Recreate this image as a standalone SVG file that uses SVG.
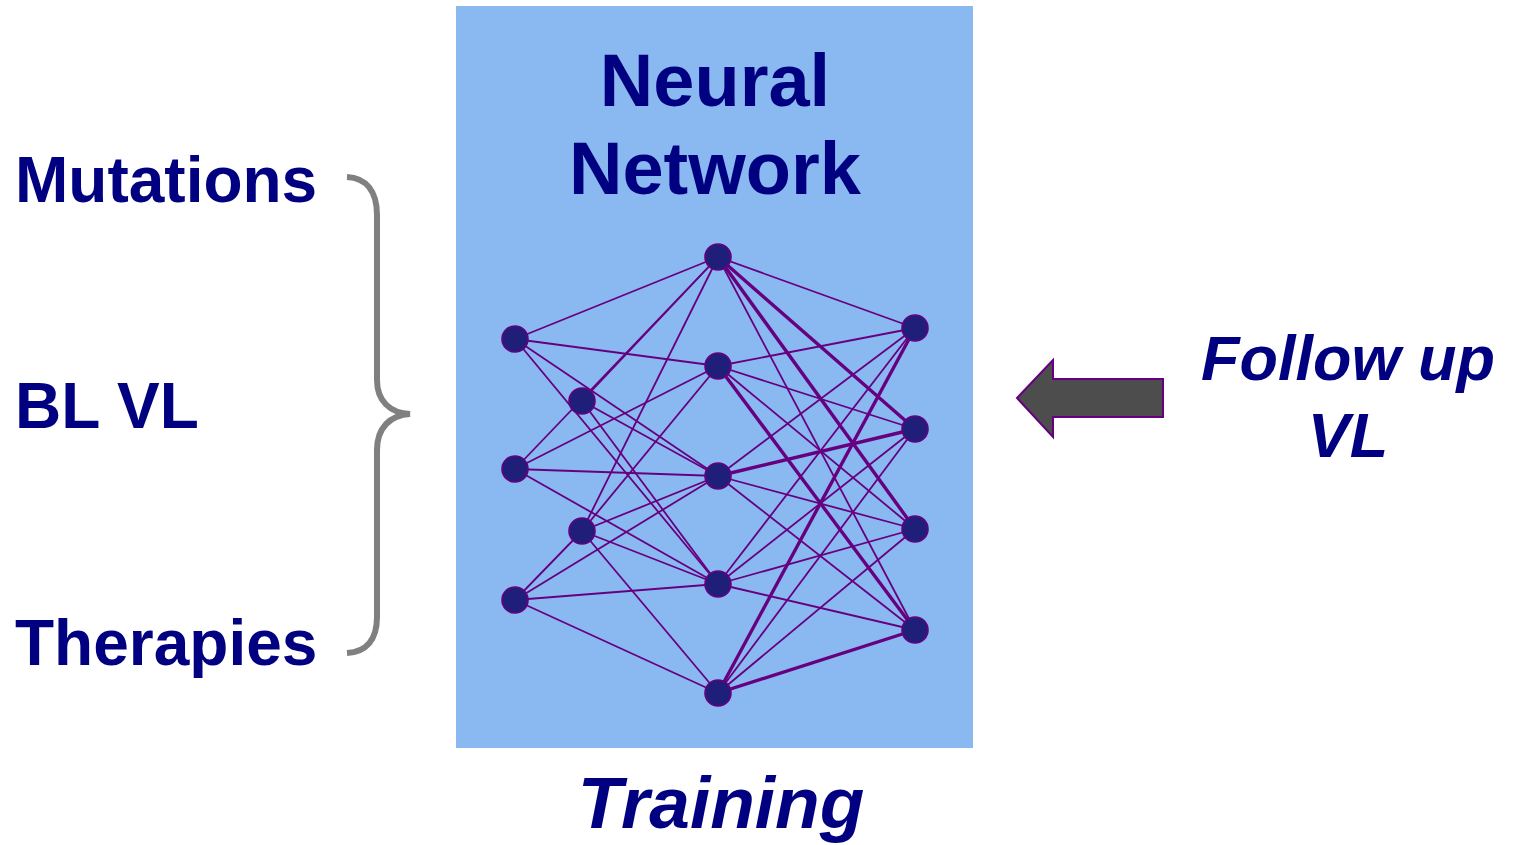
<svg xmlns="http://www.w3.org/2000/svg" width="1517" height="845" viewBox="0 0 1517 845">
<style>
.lbl{font-family:"Liberation Sans",Arial,sans-serif;font-weight:bold;fill:#000080}
.it{font-style:italic}
.e{stroke:#660080;stroke-width:1.8;fill:none}
.t{stroke:#660080;stroke-width:3.4;fill:none}
.n{fill:#1f1f7a;stroke:#660080;stroke-width:1.6}
</style>
<rect width="1517" height="845" fill="#ffffff"/>
<rect id="panel" x="456" y="6" width="517" height="742" fill="#8ab8f0"/>
<g id="title"><text class="lbl" x="715" y="106" font-size="74" text-anchor="middle">Neural</text><text class="lbl" x="715" y="194" font-size="74" text-anchor="middle">Network</text></g>
<g id="connectors">
<line class="e" x1="515" y1="339" x2="718" y2="257"/>
<line class="e" x1="515" y1="339" x2="718" y2="366"/>
<line class="e" x1="515" y1="339" x2="718" y2="476"/>
<line class="e" x1="515" y1="339" x2="718" y2="584"/>
<line class="e" x1="515" y1="469" x2="718" y2="257"/>
<line class="e" x1="582" y1="401" x2="718" y2="257"/>
<line class="e" x1="515" y1="469" x2="718" y2="366"/>
<line class="e" x1="515" y1="469" x2="718" y2="476"/>
<line class="e" x1="515" y1="469" x2="718" y2="584"/>
<line class="e" x1="515" y1="600" x2="582" y2="531"/>
<line class="e" x1="515" y1="600" x2="718" y2="476"/>
<line class="e" x1="515" y1="600" x2="718" y2="584"/>
<line class="e" x1="515" y1="600" x2="718" y2="693"/>
<line class="e" x1="582" y1="401" x2="718" y2="476"/>
<line class="e" x1="582" y1="401" x2="718" y2="584"/>
<line class="e" x1="582" y1="531" x2="718" y2="257"/>
<line class="e" x1="582" y1="531" x2="718" y2="366"/>
<line class="e" x1="582" y1="531" x2="718" y2="476"/>
<line class="e" x1="582" y1="531" x2="718" y2="584"/>
<line class="e" x1="582" y1="531" x2="718" y2="693"/>
<line class="e" x1="718" y1="257" x2="915" y2="328"/>
<line class="t" x1="718" y1="257" x2="915" y2="429"/>
<line class="t" x1="718" y1="257" x2="915" y2="529"/>
<line class="e" x1="718" y1="257" x2="915" y2="630"/>
<line class="e" x1="718" y1="366" x2="915" y2="328"/>
<line class="e" x1="718" y1="366" x2="915" y2="429"/>
<line class="e" x1="718" y1="366" x2="915" y2="529"/>
<line class="t" x1="718" y1="366" x2="915" y2="630"/>
<line class="e" x1="718" y1="476" x2="915" y2="328"/>
<line class="t" x1="718" y1="476" x2="915" y2="429"/>
<line class="e" x1="718" y1="476" x2="915" y2="529"/>
<line class="e" x1="718" y1="476" x2="915" y2="630"/>
<line class="e" x1="718" y1="584" x2="915" y2="328"/>
<line class="e" x1="718" y1="584" x2="915" y2="429"/>
<line class="e" x1="718" y1="584" x2="915" y2="529"/>
<line class="e" x1="718" y1="584" x2="915" y2="630"/>
<line class="t" x1="718" y1="693" x2="915" y2="328"/>
<line class="e" x1="718" y1="693" x2="915" y2="429"/>
<line class="e" x1="718" y1="693" x2="915" y2="529"/>
<line class="t" x1="718" y1="693" x2="915" y2="630"/>
</g>
<g id="nodes">
<circle id="in1" class="n" cx="515" cy="339" r="13"/>
<circle id="in2" class="n" cx="515" cy="469" r="13"/>
<circle id="in3" class="n" cx="515" cy="600" r="13"/>
<circle id="mid1" class="n" cx="582" cy="401" r="13"/>
<circle id="mid2" class="n" cx="582" cy="531" r="13"/>
<circle id="h1" class="n" cx="718" cy="257" r="13"/>
<circle id="h2" class="n" cx="718" cy="366" r="13"/>
<circle id="h3" class="n" cx="718" cy="476" r="13"/>
<circle id="h4" class="n" cx="718" cy="584" r="13"/>
<circle id="h5" class="n" cx="718" cy="693" r="13"/>
<circle id="o1" class="n" cx="915" cy="328" r="13"/>
<circle id="o2" class="n" cx="915" cy="429" r="13"/>
<circle id="o3" class="n" cx="915" cy="529" r="13"/>
<circle id="o4" class="n" cx="915" cy="630" r="13"/>
</g>
<g id="inputs">
<text class="lbl" x="15" y="202" font-size="64">Mutations</text>
<text class="lbl" x="15" y="428" font-size="64">BL VL</text>
<text class="lbl" x="15" y="665" font-size="64">Therapies</text>
</g>
<path id="brace" d="M347,177 C366,178 377,191 377,215 L377,380 C377,401 390,413 410,414 C390,415 377,428 377,450 L377,617 C377,640 366,652 347,653" fill="none" stroke="#808080" stroke-width="6"/>
<g id="followup">
<path d="M1017,398 L1053,360 L1053,379 L1163,379 L1163,417 L1053,417 L1053,437 Z" fill="#4d4d4d" stroke="#660080" stroke-width="2"/>
<text class="lbl it" x="1348" y="380" font-size="63" text-anchor="middle">Follow up</text>
<text class="lbl it" x="1348" y="457" font-size="63" text-anchor="middle">VL</text>
</g>
<text id="training" class="lbl it" x="721" y="828" font-size="73" text-anchor="middle">Training</text>
</svg>
